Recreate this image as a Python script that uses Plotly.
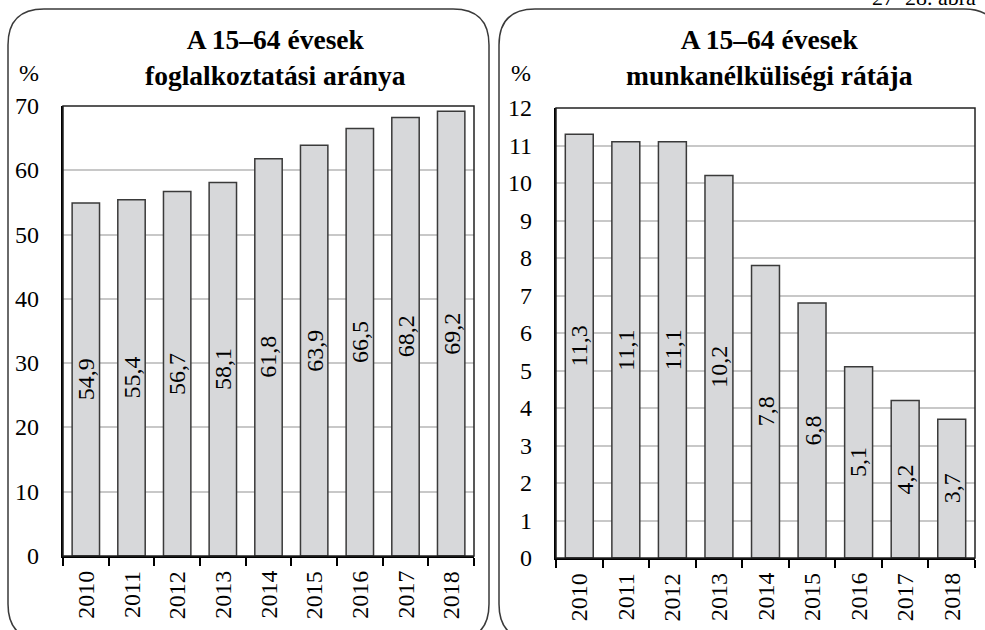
import plotly.graph_objects as go

# ---- data ----
years = ["2010", "2011", "2012", "2013", "2014", "2015", "2016", "2017", "2018"]
employment_rate = [54.9, 55.4, 56.7, 58.1, 61.8, 63.9, 66.5, 68.2, 69.2]
unemployment_rate = [11.3, 11.1, 11.1, 10.2, 7.8, 6.8, 5.1, 4.2, 3.7]
left_yticks = [0, 10, 20, 30, 40, 50, 60, 70]
right_yticks = [0, 1, 2, 3, 4, 5, 6, 7, 8, 9, 10, 11, 12]
title_left = "A 15–64 évesek<br>foglalkoztatási aránya"
title_right = "A 15–64 évesek<br>munkanélküliségi rátája"
unit_label = "%"
figure_label = "27–28. ábra"

emp_text = [f"{v:.1f}".replace(".", ",") for v in employment_rate]
unemp_text = [f"{v:.1f}".replace(".", ",") for v in unemployment_rate]

W, H = 985, 630
FONT = "Liberation Serif"
ROT_FONT = "serif"
BAR_FILL = "#d7d8da"
BAR_LINE = "#3a3a3a"
GRID = "#c8c8c8"


def px(x):
    return x / W


def py(y):
    return 1 - y / H


def rounded_path(x0, y0, x1, y1, r):
    pts = [
        f"M {px(x0 + r)},{py(y0)}",
        f"L {px(x1 - r)},{py(y0)}",
        f"Q {px(x1)},{py(y0)} {px(x1)},{py(y0 + r)}",
        f"L {px(x1)},{py(y1 - r)}",
        f"Q {px(x1)},{py(y1)} {px(x1 - r)},{py(y1)}",
        f"L {px(x0 + r)},{py(y1)}",
        f"Q {px(x0)},{py(y1)} {px(x0)},{py(y1 - r)}",
        f"L {px(x0)},{py(y0 + r)}",
        f"Q {px(x0)},{py(y0)} {px(x0 + r)},{py(y0)}",
        "Z",
    ]
    return " ".join(pts)


def txt_font(size=24, family=FONT):
    return dict(family=family, size=size, color="black")


fig = go.Figure()

bar_common = dict(
    marker=dict(color=BAR_FILL, line=dict(color=BAR_LINE, width=1.5)),
    hoverinfo="skip",
)
fig.add_trace(go.Bar(x=years, y=employment_rate, xaxis="x", yaxis="y", **bar_common))
fig.add_trace(go.Bar(x=years, y=unemployment_rate, xaxis="x2", yaxis="y2", **bar_common))

xcommon = dict(
    type="category", automargin=False,
    categoryorder="array", categoryarray=years,
    range=[-0.5, len(years) - 0.5], autorange=False,
    showline=True, linecolor="black", linewidth=2,
    ticks="outside", tickson="boundaries", ticklen=8, tickwidth=1.5, tickcolor="black",
    showticklabels=False,
    showgrid=False, zeroline=False, fixedrange=True,
)
ycommon = dict(
    automargin=False, autorange=False,
    showline=True, linecolor="black", linewidth=2,
    ticks="", showticklabels=False,
    showgrid=True, gridcolor=GRID, gridwidth=1.5,
    zeroline=False, fixedrange=True,
)

fig.update_layout(
    width=W, height=H,
    margin=dict(l=0, r=0, t=0, b=0, pad=0),
    paper_bgcolor="white", plot_bgcolor="white",
    showlegend=False,
    bargap=0.4,
    font=dict(family=FONT, color="black"),
    title=dict(text=figure_label, x=px(872), xanchor="left", xref="container",
               y=1 - 5 / H, yanchor="bottom", yref="container",
               font=txt_font(22), automargin=False),
    xaxis=dict(domain=[px(63), px(474)], anchor="y", **xcommon),
    yaxis=dict(domain=[py(556), py(106)], anchor="x", range=[0, 70],
               tickvals=left_yticks, **ycommon),
    xaxis2=dict(domain=[px(556), px(975)], anchor="y2", **xcommon),
    yaxis2=dict(domain=[py(558), py(108)], anchor="x2", range=[0, 12],
                tickvals=right_yticks, **ycommon),
)

shapes = [
    dict(type="rect", xref="x domain", yref="y domain", x0=0, x1=1, y0=0, y1=1,
         line=dict(color="#222222", width=1.5), layer="above"),
    dict(type="rect", xref="x2 domain", yref="y2 domain", x0=0, x1=1, y0=0, y1=1,
         line=dict(color="#222222", width=1.5), layer="above"),
    dict(type="path", xref="paper", yref="paper", path=rounded_path(8, 9, 489, 640, 36),
         line=dict(color="#3a3a3a", width=1.5)),
    dict(type="path", xref="paper", yref="paper", path=rounded_path(499, 9, 1000, 640, 36),
         line=dict(color="#3a3a3a", width=1.5)),
]
fig.update_layout(shapes=shapes)

annotations = [
    dict(text=f"<b>{title_left}</b>", x=px(275), y=py(57), xref="paper", yref="paper",
         xanchor="center", yanchor="middle", showarrow=False, align="center",
         font=txt_font(27.5)),
    dict(text=f"<b>{title_right}</b>", x=px(769), y=py(57), xref="paper", yref="paper",
         xanchor="center", yanchor="middle", showarrow=False, align="center",
         font=txt_font(27.5)),
    dict(text=unit_label, x=px(29), y=py(73), xref="paper", yref="paper",
         xanchor="center", yanchor="middle", showarrow=False, font=txt_font(24)),
    dict(text=unit_label, x=px(521), y=py(73), xref="paper", yref="paper",
         xanchor="center", yanchor="middle", showarrow=False, font=txt_font(24)),
]

panels = [
    ("x", "y", employment_rate, emp_text, left_yticks, 41, 557),
    ("x2", "y2", unemployment_rate, unemp_text, right_yticks, 534, 559),
]
for xr, yr, vals, labels, yticks, ylab_right, axis_bottom in panels:
    for i, (yr_name, v, lab) in enumerate(zip(years, vals, labels)):
        # value label inside the bar (category index position)
        annotations.append(dict(text=lab, x=i, y=v / 2, xref=xr, yref=yr,
                                textangle=-90, xanchor="center", yanchor="middle",
                                showarrow=False, font=txt_font(24, ROT_FONT)))
        # category tick label
        annotations.append(dict(text=yr_name, x=i, y=py(axis_bottom + 12), xref=xr,
                                yref="paper", textangle=-90, xanchor="center",
                                yanchor="top", showarrow=False, font=txt_font(24, ROT_FONT)))
    for t in yticks:
        annotations.append(dict(text=str(t), x=px(ylab_right), y=t, xref="paper", yref=yr,
                                xanchor="right", yanchor="middle", showarrow=False,
                                font=txt_font(24)))

fig.update_layout(annotations=annotations)

fig.write_html("out.html", config={"displayModeBar": False},
               post_script="document.body.style.margin='0px';")
